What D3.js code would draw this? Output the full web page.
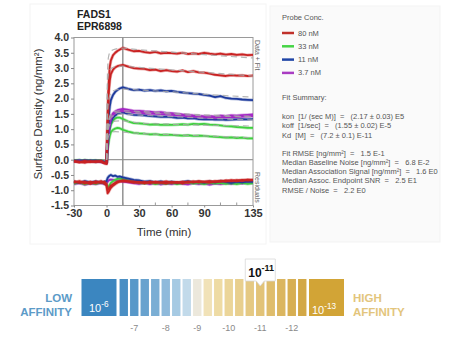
<!DOCTYPE html>
<html><head><meta charset="utf-8">
<script src="https://cdn.jsdelivr.net/npm/d3@7"></script>
<style>body{margin:0;background:#fff}svg{display:block;font-family:"Liberation Sans",Arial,sans-serif}text{white-space:pre}</style>
</head><body><svg id="c" width="470" height="360"></svg>
<script>
// ---------- data ----------
const time = [-30,-25,-20,-15,-10,-5,-2,0,1,2,3,4,6,8,10,12,15,20,25,30,35,40,45,50,55,60,65,70,75,80,85,90,95,100,105,110,115,120,125,130,135];
const red1 = [-0.06,-0.09,-0.04,-0.08,-0.05,-0.07,-0.12,-0.14,1.4,2.5,3.05,3.25,3.42,3.5,3.56,3.6,3.66,3.6,3.55,3.56,3.52,3.5,3.53,3.48,3.5,3.49,3.47,3.5,3.46,3.48,3.46,3.5,3.47,3.45,3.47,3.44,3.46,3.43,3.45,3.42,3.43];
const red2 = [-0.04,-0.07,-0.1,-0.05,-0.08,-0.04,-0.1,-0.12,1.2,2.2,2.6,2.8,2.95,3.02,3.06,3.08,3.1,3.05,3.0,2.98,2.97,2.93,2.95,2.9,2.93,2.9,2.88,2.92,2.87,2.9,2.86,2.85,2.82,2.78,2.76,2.74,2.77,2.75,2.76,2.74,2.75];
const blue1 = [-0.03,-0.06,-0.02,-0.05,-0.03,-0.06,-0.08,-0.1,0.8,1.4,1.75,1.95,2.12,2.22,2.28,2.33,2.37,2.32,2.28,2.29,2.26,2.28,2.25,2.27,2.24,2.25,2.22,2.2,2.18,2.16,2.15,2.12,2.1,2.05,2.08,2.02,2.0,1.99,1.97,1.96,1.95];
const blue2 = [-0.05,-0.02,-0.06,-0.03,-0.07,-0.04,-0.08,-0.1,0.5,0.9,1.1,1.25,1.38,1.45,1.5,1.53,1.55,1.5,1.47,1.46,1.45,1.43,1.42,1.4,1.41,1.39,1.37,1.38,1.35,1.36,1.33,1.32,1.33,1.31,1.32,1.3,1.31,1.32,1.33,1.32,1.33];
const purple1 = [-0.04,-0.07,-0.03,-0.06,-0.04,-0.08,-0.09,-0.1,0.6,1.0,1.25,1.4,1.52,1.58,1.62,1.64,1.66,1.63,1.6,1.6,1.58,1.57,1.55,1.56,1.53,1.52,1.5,1.48,1.47,1.45,1.44,1.42,1.43,1.41,1.44,1.43,1.45,1.44,1.46,1.47,1.48];
const purple2 = [-0.06,-0.03,-0.07,-0.04,-0.06,-0.05,-0.1,-0.11,0.55,0.95,1.2,1.35,1.47,1.53,1.57,1.59,1.6,1.57,1.55,1.54,1.52,1.51,1.5,1.49,1.48,1.47,1.45,1.44,1.42,1.41,1.4,1.39,1.38,1.37,1.39,1.38,1.4,1.39,1.41,1.42,1.43];
const green1 = [-0.02,-0.05,-0.01,-0.04,-0.02,-0.05,-0.07,-0.09,0.45,0.8,1.0,1.15,1.28,1.35,1.38,1.38,1.33,1.25,1.2,1.19,1.17,1.15,1.16,1.14,1.15,1.14,1.15,1.16,1.15,1.17,1.16,1.17,1.15,1.14,1.12,1.1,1.09,1.07,1.06,1.04,1.04];
const green2 = [-0.03,-0.01,-0.05,-0.02,-0.04,-0.03,-0.06,-0.08,0.35,0.6,0.78,0.9,0.98,1.02,1.04,1.03,0.98,0.92,0.88,0.86,0.85,0.83,0.84,0.81,0.82,0.81,0.8,0.79,0.8,0.78,0.79,0.78,0.76,0.75,0.74,0.72,0.73,0.71,0.72,0.7,0.7];

const fitTime = [0,1,2,4,8,15,30,60,90,135];
const fitRed1 = [0,3.0,3.4,3.55,3.62,3.65,3.6,3.52,3.44,3.33];
const fitRed2 = [0,2.5,2.85,2.98,3.04,3.06,3.02,2.94,2.86,2.74];
const fitBlue1 = [0,1.5,1.95,2.18,2.28,2.31,2.28,2.22,2.14,2.05];
const fitBlue2 = [0,0.9,1.2,1.38,1.46,1.49,1.46,1.41,1.36,1.3];
const fitPurple1 = [0,1.0,1.3,1.5,1.58,1.6,1.58,1.53,1.47,1.42];
const fitPurple2 = [0,0.95,1.25,1.45,1.53,1.55,1.53,1.49,1.44,1.4];
const fitGreen1 = [0,0.85,1.05,1.2,1.26,1.27,1.2,1.16,1.13,1.1];
const fitGreen2 = [0,0.6,0.78,0.88,0.92,0.9,0.86,0.82,0.78,0.72];

const resRed1 = [-0.75,-0.7,-0.78,-0.72,-0.77,-0.7,-0.78,-0.85,-1.1,-1.05,-0.98,-0.92,-0.85,-0.8,-0.75,-0.72,-0.7,-0.72,-0.75,-0.73,-0.78,-0.72,-0.76,-0.74,-0.78,-0.73,-0.76,-0.72,-0.75,-0.71,-0.74,-0.72,-0.7,-0.73,-0.69,-0.71,-0.67,-0.7,-0.66,-0.68,-0.66];
const resRed2 = [-0.7,-0.76,-0.72,-0.79,-0.71,-0.76,-0.72,-0.8,-0.98,-0.95,-0.9,-0.85,-0.8,-0.76,-0.72,-0.7,-0.68,-0.7,-0.72,-0.76,-0.73,-0.77,-0.72,-0.75,-0.71,-0.76,-0.73,-0.78,-0.72,-0.74,-0.7,-0.73,-0.75,-0.7,-0.72,-0.68,-0.7,-0.67,-0.69,-0.65,-0.67];
const resBlue = [-0.72,-0.76,-0.7,-0.74,-0.71,-0.75,-0.72,-0.7,-0.6,-0.55,-0.52,-0.5,-0.54,-0.52,-0.56,-0.55,-0.58,-0.62,-0.66,-0.68,-0.72,-0.7,-0.74,-0.71,-0.75,-0.72,-0.76,-0.73,-0.7,-0.74,-0.72,-0.75,-0.71,-0.74,-0.7,-0.73,-0.76,-0.72,-0.74,-0.71,-0.73];
const resGreen = [-0.78,-0.74,-0.8,-0.75,-0.79,-0.74,-0.77,-0.8,-0.92,-0.88,-0.82,-0.76,-0.7,-0.66,-0.63,-0.62,-0.64,-0.68,-0.72,-0.75,-0.78,-0.74,-0.8,-0.76,-0.79,-0.75,-0.8,-0.77,-0.74,-0.78,-0.76,-0.8,-0.75,-0.78,-0.76,-0.79,-0.77,-0.8,-0.76,-0.79,-0.77];
const resPurple = [-0.8,-0.76,-0.82,-0.78,-0.8,-0.76,-0.8,-0.78,-0.72,-0.68,-0.66,-0.65,-0.66,-0.68,-0.7,-0.7,-0.72,-0.74,-0.77,-0.79,-0.76,-0.8,-0.77,-0.81,-0.78,-0.8,-0.76,-0.79,-0.81,-0.77,-0.8,-0.78,-0.82,-0.78,-0.8,-0.77,-0.79,-0.76,-0.78,-0.75,-0.77];

const yTicks = [-1.5,-1.0,-0.5,0.0,0.5,1.0,1.5,2.0,2.5,3.0,3.5,4.0];
const xTicks = [-30,0,30,60,90,135];
const legendLabels = ["80 nM","33 nM","11 nM","3.7 nM"];
const fitSummary = [
  "kon  [1/ (sec M)]  =   (2.17 \u00b1 0.03) E5",
  "koff  [1/sec]  =   (1.55 \u00b1 0.02) E-5",
  "Kd  [M]  =   (7.2 \u00b1 0.1) E-11"];
const fitStats = [
  "Fit RMSE [ng/mm\u00b2]  =   1.5 E-1",
  "Median Baseline Noise [ng/mm\u00b2]  =   6.8 E-2",
  "Median Association Signal [ng/mm\u00b2]  =   1.6 E0",
  "Median Assoc. Endpoint SNR  =   2.5 E1",
  "RMSE / Noise  =   2.2 E0"];
const affinityTicks = ["-7","-8","-9","-10","-11","-12"];
const affinitySegments = 18;

// ---------- styles ----------
const C = {red:"#c92222", green:"#3fd03f", blue:"#1d3a9c", purple:"#a428c4"};
const legendColors = ["#c0302a","#45d445","#1f45a6","#a93cc2"];
const segColors = ["#4a8fc4","#5798c9","#68a2ce","#7aaed4","#8fbadb","#a6cae3","#c2daea","#ece8dc","#f1e2b8","#eedba4","#ebd599","#e8cf8e","#e5c983","#e2c378","#dfbd6c","#dbb660","#d7af53","#d3a846"];

const svg = d3.select("#c");
const x = d3.scaleLinear().domain([-30,135]).range([74,253]);
const y = d3.scaleLinear().domain([-1.5,4]).range([205.5,37.5]);
const FF = "Liberation Sans, Arial, sans-serif";

// faint panels
svg.append("rect").attr("x",30).attr("y",4).attr("width",236).attr("height",240).attr("fill","#fff").attr("stroke","#f4f4f4");
svg.append("rect").attr("x",270).attr("y",6).attr("width",170).attr("height",236).attr("fill","#fafafa").attr("stroke","#f3f3f3");

// title
svg.append("text").attr("x",77).attr("y",18).attr("font-size",10.5).attr("font-weight","bold").attr("fill","#222").text("FADS1");
svg.append("text").attr("x",77).attr("y",30).attr("font-size",10.5).attr("font-weight","bold").attr("fill","#222").text("EPR6898");

// frame + guides
svg.append("rect").attr("x",x(-30)).attr("y",y(4)).attr("width",x(135)-x(-30)).attr("height",y(-1.5)-y(4)).attr("fill","none").attr("stroke","#9a9a9a");
svg.append("line").attr("x1",x(-30)).attr("x2",x(135)).attr("y1",y(0)).attr("y2",y(0)).attr("stroke","#9a9a9a").attr("stroke-width",1.2);
svg.append("line").attr("x1",x(15)).attr("x2",x(15)).attr("y1",y(4)).attr("y2",y(-1.5)).attr("stroke","#8a8a8a").attr("stroke-width",1.4);

// axes
const ya = svg.append("g").attr("transform",`translate(${x(-30)},0)`)
  .call(d3.axisLeft(y).tickValues(yTicks).tickFormat(d=>d.toFixed(1)).tickSize(3).tickPadding(2));
ya.select(".domain").remove();
ya.selectAll("line").attr("stroke","#888");
ya.selectAll("text").attr("font-size",10.5).attr("font-weight","bold").attr("fill","#333").attr("font-family",FF);
const xa = svg.append("g").attr("transform",`translate(0,${y(-1.5)})`)
  .call(d3.axisBottom(x).tickValues(xTicks).tickFormat(d=>String(d)).tickSize(2).tickPadding(2));
xa.select(".domain").remove();
xa.selectAll("line").attr("stroke","#888");
xa.selectAll("text").attr("font-size",11).attr("font-weight","bold").attr("fill","#333").attr("font-family",FF);
// minor ticks
svg.append("g").selectAll("line").data([15,45,75,105,120]).join("line")
  .attr("x1",d=>x(d)).attr("x2",d=>x(d)).attr("y1",y(-1.5)).attr("y2",y(-1.5)-3).attr("stroke","#999");

svg.append("text").attr("x",164).attr("y",236).attr("text-anchor","middle").attr("font-size",11.5).attr("fill","#333").text("Time (min)");
svg.append("text").attr("transform","translate(42,114) rotate(-90)").attr("text-anchor","middle").attr("font-size",11.5).attr("fill","#333").text("Surface Density (ng/mm\u00b2)");
svg.append("text").attr("transform","translate(255,40) rotate(90)").attr("font-size",7).attr("fill","#666").text("Data + Fit");
svg.append("text").attr("transform","translate(255,172) rotate(90)").attr("font-size",7).attr("fill","#666").text("Residuals");

// lines
const line = d3.line().x((d,i)=>x(time[i])).y(d=>y(d));
const fitLine = d3.line().x((d,i)=>x(fitTime[i])).y(d=>y(d)).curve(d3.curveMonotoneX);
const plot = svg.append("g");
const res = [[resPurple,C.purple],[resGreen,C.green],[resBlue,C.blue],[resRed2,C.red],[resRed1,C.red]];
res.forEach(([v,c])=>{
  plot.append("path").attr("d",line(v)).attr("fill","none").attr("stroke",c).attr("stroke-opacity",0.35).attr("stroke-width",3.2).attr("stroke-linejoin","round");
  plot.append("path").attr("d",line(v)).attr("fill","none").attr("stroke",c).attr("stroke-width",1.8).attr("stroke-linejoin","round");
});
const dataSeries = [[green2,C.green],[green1,C.green],[blue2,C.blue],[purple2,C.purple],[purple1,C.purple],[blue1,C.blue],[red2,C.red],[red1,C.red]];
dataSeries.forEach(([v,c])=>{
  plot.append("path").attr("d",line(v)).attr("fill","none").attr("stroke",c).attr("stroke-opacity",0.35).attr("stroke-width",3.2).attr("stroke-linejoin","round");
  plot.append("path").attr("d",line(v)).attr("fill","none").attr("stroke",c).attr("stroke-width",1.8).attr("stroke-linejoin","round");
});
[fitGreen2,fitGreen1,fitBlue2,fitPurple2,fitPurple1,fitBlue1,fitRed2,fitRed1].forEach(v=>{
  plot.append("path").attr("d",fitLine(v)).attr("fill","none").attr("stroke","#a8a8a8").attr("stroke-width",1.2).attr("stroke-dasharray","6,4").attr("opacity",0.85);
});

// legend
const lg = svg.append("g").attr("font-size",7.5).attr("fill","#555");
lg.append("text").attr("x",282).attr("y",20).text("Probe Conc.");
legendLabels.forEach((l,i)=>{
  const yy = 33 + i*13.3;
  lg.append("line").attr("x1",282).attr("x2",294).attr("y1",yy).attr("y2",yy).attr("stroke",legendColors[i]).attr("stroke-width",2.5);
  lg.append("text").attr("x",298).attr("y",yy+2.5).text(l);
});
lg.append("text").attr("x",282).attr("y",100).text("Fit Summary:");
fitSummary.forEach((t,i)=>lg.append("text").attr("x",282).attr("y",119+i*9.3).text(t));
fitStats.forEach((t,i)=>lg.append("text").attr("x",282).attr("y",155.5+i*9.3).text(t));

// affinity bar
const ab = svg.append("g");
const seg = d3.scaleBand().domain(d3.range(affinitySegments)).range([118.5,307.5]).paddingInner(0.2).paddingOuter(0.1);
ab.append("rect").attr("x",81.5).attr("y",279).attr("width",35).attr("height",37).attr("fill","#3b86c0");
ab.append("rect").attr("x",309).attr("y",279).attr("width",35).attr("height",37).attr("fill","#d2a436");
ab.selectAll("rect.s").data(d3.range(affinitySegments)).join("rect").attr("class","s")
  .attr("x",d=>seg(d)).attr("y",279).attr("width",seg.bandwidth()).attr("height",37).attr("fill",d=>segColors[d]);
ab.selectAll("text.t").data(affinityTicks).join("text").attr("class","t")
  .attr("x",(d,i)=>seg(1+3*i)+seg.bandwidth()/2).attr("y",331).attr("text-anchor","middle")
  .attr("font-size",9).attr("fill","#8a8a8a").text(d=>d);
function pow(g,xx,yy,base,exp,size,color,weight){
  const t = g.append("text").attr("x",xx).attr("y",yy).attr("font-size",size).attr("fill",color).attr("font-weight",weight);
  t.append("tspan").text(base);
  t.append("tspan").attr("dy",-size*0.5).attr("font-size",size*0.75).text(exp);
  return t;
}
pow(ab,89,312,"10","-6",11,"#fff","normal");
pow(ab,312,314,"10","-13",11,"#fff","normal");
ab.append("text").attr("x",72).attr("y",302).attr("text-anchor","end").attr("font-size",11.5).attr("font-weight","bold").attr("fill","#5c9bc8").text("LOW");
ab.append("text").attr("x",72).attr("y",315.5).attr("text-anchor","end").attr("font-size",11.5).attr("font-weight","bold").attr("fill","#5c9bc8").text("AFFINITY");
ab.append("text").attr("x",353).attr("y",302).attr("font-size",11.5).attr("font-weight","bold").attr("fill","#e3c57c").text("HIGH");
ab.append("text").attr("x",353).attr("y",315.5).attr("font-size",11.5).attr("font-weight","bold").attr("fill","#e3c57c").text("AFFINITY");
// Kd marker
const mx = seg(13)+seg.bandwidth()/2;
ab.append("path").attr("d",`M${mx-15},259 H${mx+15} V281 H${mx+4} L${mx},286 L${mx-4},281 H${mx-15} Z`)
  .attr("fill","#fff").attr("stroke","#d8d8d8").attr("stroke-width",0.8);
pow(ab,mx-12,277,"10","-11",12,"#111","bold");
</script></body></html>
